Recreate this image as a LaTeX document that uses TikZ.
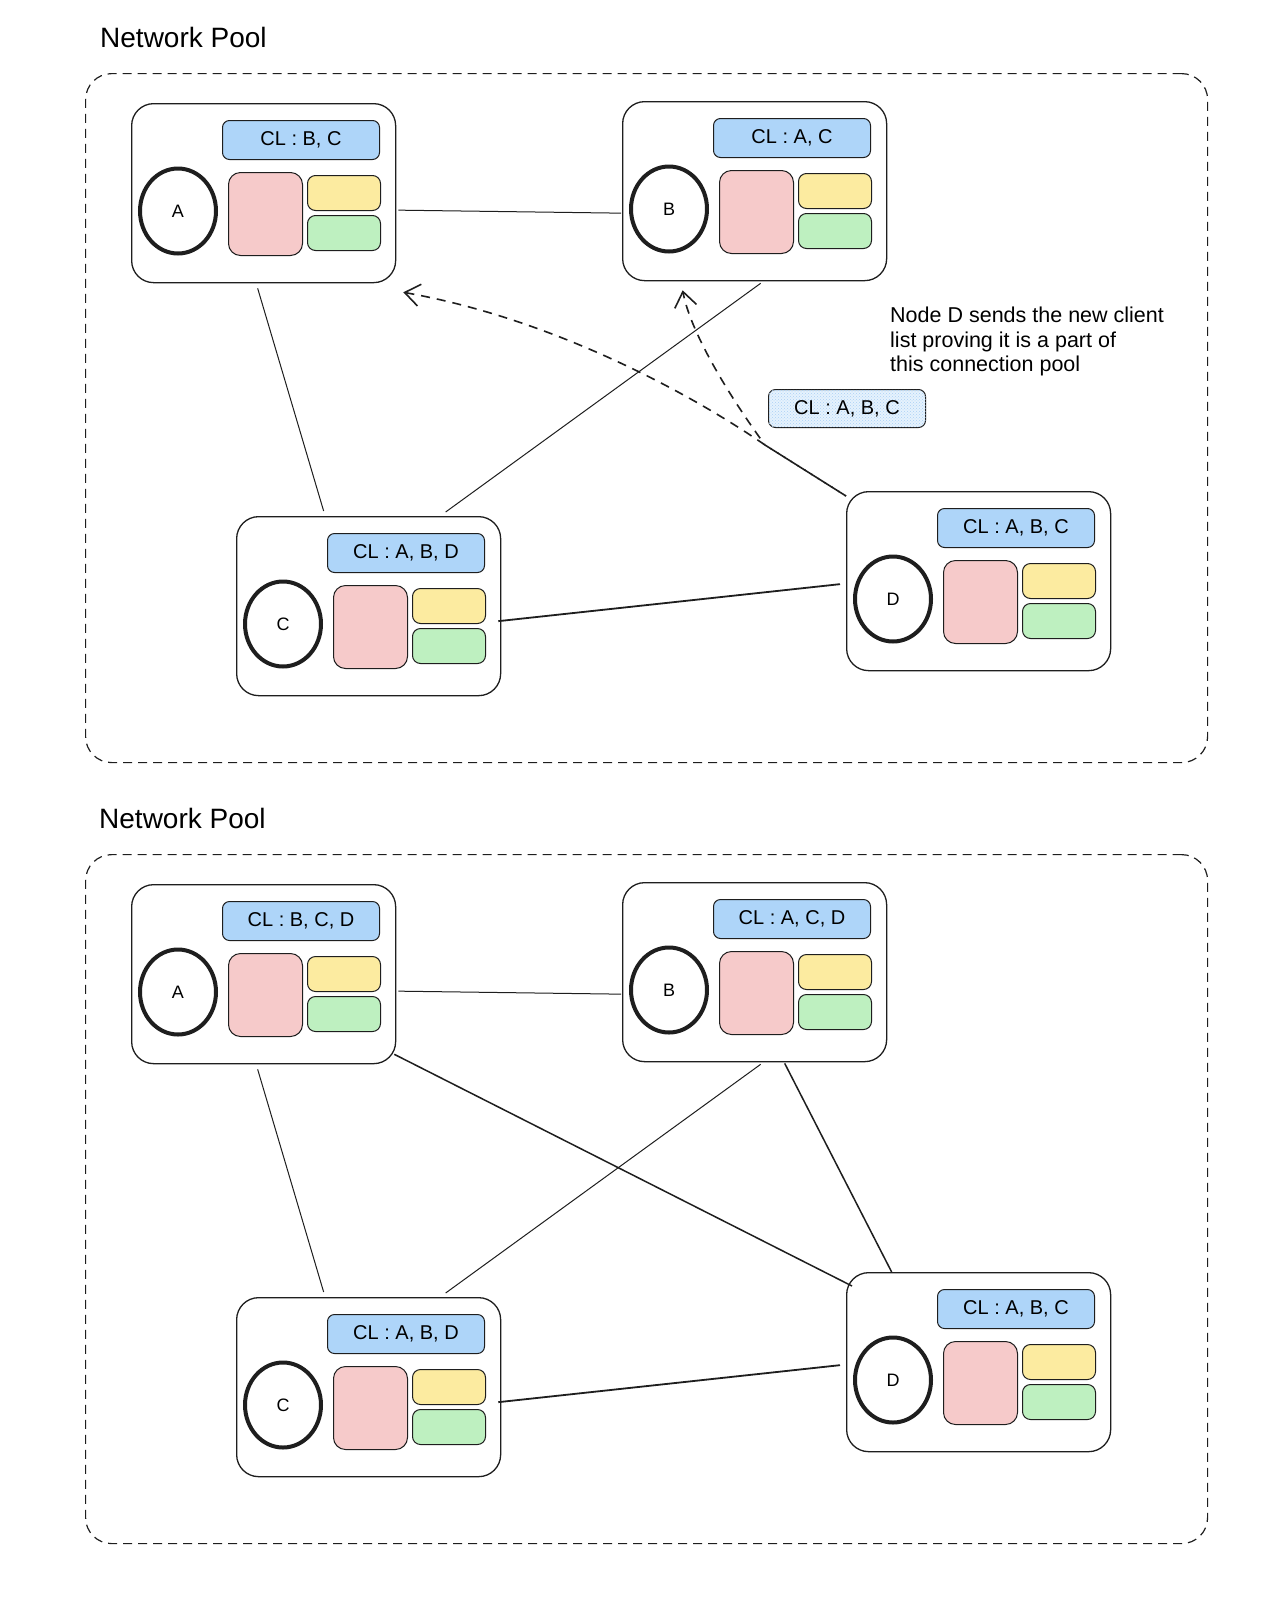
\documentclass[tikz,border=0pt]{standalone}
\usepackage{fontspec}
\setmainfont{Liberation Sans}
\usetikzlibrary{shapes.geometric,arrows.meta,patterns,calc}
\definecolor{ink}{HTML}{1E1E1E}
\definecolor{clblue}{HTML}{AED5F9}
\definecolor{pinkf}{HTML}{F6CACA}
\definecolor{yellowf}{HTML}{FCEBA0}
\definecolor{greenf}{HTML}{BEF0C0}
\definecolor{hatchf}{HTML}{E6F2FD}
\definecolor{hatchl}{HTML}{A9D1F5}
\tikzset{
  nbox/.style={draw=ink, line width=1.3pt, fill=white, rounded corners=22pt,
    minimum width=264pt, minimum height=179pt, inner sep=0pt, anchor=north west},
  clbox/.style={draw=ink, line width=1pt, fill=clblue, rounded corners=7pt,
    minimum width=157pt, minimum height=39pt, inner sep=0pt, anchor=north west,
    font=\fontsize{20}{22}\selectfont},
  circ/.style={ellipse, draw=ink, line width=4pt, fill=white, minimum width=76pt,
    minimum height=85pt, inner sep=0pt, font=\fontsize{18}{20}\selectfont},
  pinkb/.style={draw=ink, line width=1pt, fill=pinkf, rounded corners=12pt,
    minimum width=74pt, minimum height=83pt, inner sep=0pt, anchor=north west},
  yelb/.style={draw=ink, line width=1pt, fill=yellowf, rounded corners=8pt,
    minimum width=73pt, minimum height=35pt, inner sep=0pt, anchor=north west},
  grnb/.style={draw=ink, line width=1pt, fill=greenf, rounded corners=8pt,
    minimum width=73pt, minimum height=35pt, inner sep=0pt, anchor=north west},
  pool/.style={draw=ink, line width=1.2pt, dash pattern=on 9pt off 6pt,
    rounded corners=26pt, minimum width=1122pt, minimum height=689pt,
    inner sep=0pt, anchor=north west},
  title/.style={anchor=base west, inner sep=0pt, font=\fontsize{28}{30}\selectfont},
  link/.style={draw=ink, line width=1pt},
  thicklink/.style={draw=ink, line width=1.8pt},
  medlink/.style={draw=ink, line width=1.5pt},
  dasharrow/.style={draw=ink, line width=1.6pt, dash pattern=on 9pt off 7pt,
    -{Straight Barb[length=15pt,width=22pt,line width=1.6pt]}},
  hatchbox/.style={draw=ink, line width=1pt, fill=hatchf,
    postaction={pattern=crosshatch dots, pattern color=hatchl},
    rounded corners=7pt, minimum width=157pt, minimum height=38pt, inner sep=0pt,
    anchor=north west, font=\fontsize{20}{22}\selectfont},
  notetext/.style={anchor=north west, align=left, inner sep=0pt,
    font=\fontsize{21.5}{24.5}\selectfont},
  pics/netnode/.style n args={2}{code={
    \node[nbox] (-box) at (0,0) {};
    \node[clbox] (-cl) at (91,17) {#2};
    \node[circ] (-circ) at (47,108) {#1};
    \node[pinkb] (-pink) at (97,69) {};
    \node[yelb] (-yel) at (176,72) {};
    \node[grnb] (-grn) at (176,112) {};
  }}
}
\begin{document}
\begin{tikzpicture}[x=1pt,y=-1pt]
\fill[white] (0,0) rectangle (1284,1604);
\useasboundingbox (0,0) rectangle (1284,1604);

% ===== upper pool =====
\node[title] (t1) at (100,47) {Network Pool};
\node[pool] (pool1) at (85,73) {};

\pic (A1) at (131,103) {netnode={A}{CL : B, C}};
\pic (B1) at (622,101) {netnode={B}{CL : A, C}};
\pic (C1) at (236,516) {netnode={C}{CL : A, B, D}};
\pic (D1) at (846,491) {netnode={D}{CL : A, B, C}};

\draw[link] ([shift={(2,17)}]A1-box.east) -- ([shift={(-1,22)}]B1-box.west);
\draw[link] ([shift={(-6,5)}]A1-box.south) -- ([shift={(-45,-5)}]C1-box.north);
\draw[link] ([shift={(6,2)}]B1-box.south) -- ([shift={(77,-4)}]C1-box.north);
\draw[thicklink] ([shift={(-3,15)}]C1-box.east) -- ([shift={(-6,3)}]D1-box.west);

\coordinate (split) at (765,445);
\draw[dasharrow] ([shift={(0,5)}]D1-box.north west) -- (split)
  .. controls (700,400) and (560,320) .. ([shift={(7,9)}]A1-box.south east);
\draw[dasharrow, dash phase=8pt] ([shift={(0,5)}]D1-box.north west) -- (split)
  .. controls (725,390) and (690,330) .. ([shift={(-72,9)}]B1-box.south);

\node[notetext] (note) at (890,307) {Node D sends the new client\\list proving it is a part of\\this connection pool};
\node[hatchbox] (msg) at (768,389) {CL : A, B, C};

% ===== lower pool =====
\node[title] (t2) at (99,828) {Network Pool};
\node[pool] (pool2) at (85,854) {};

\pic (A2) at (131,884) {netnode={A}{CL : B, C, D}};
\pic (B2) at (622,882) {netnode={B}{CL : A, C, D}};
\pic (C2) at (236,1297) {netnode={C}{CL : A, B, D}};
\pic (D2) at (846,1272) {netnode={D}{CL : A, B, C}};

\draw[link] ([shift={(2,17)}]A2-box.east) -- ([shift={(-1,22)}]B2-box.west);
\draw[link] ([shift={(-6,5)}]A2-box.south) -- ([shift={(-45,-5)}]C2-box.north);
\draw[link] ([shift={(6,2)}]B2-box.south) -- ([shift={(77,-4)}]C2-box.north);
\draw[thicklink] ([shift={(-3,15)}]C2-box.east) -- ([shift={(-6,3)}]D2-box.west);
\draw[medlink] ([shift={(-2,-10)}]A2-box.south east) -- ([shift={(6,14)}]D2-box.north west);
\draw[medlink] ([shift={(30,1)}]B2-box.south) -- ([shift={(-87,0)}]D2-box.north);
\end{tikzpicture}
\end{document}
